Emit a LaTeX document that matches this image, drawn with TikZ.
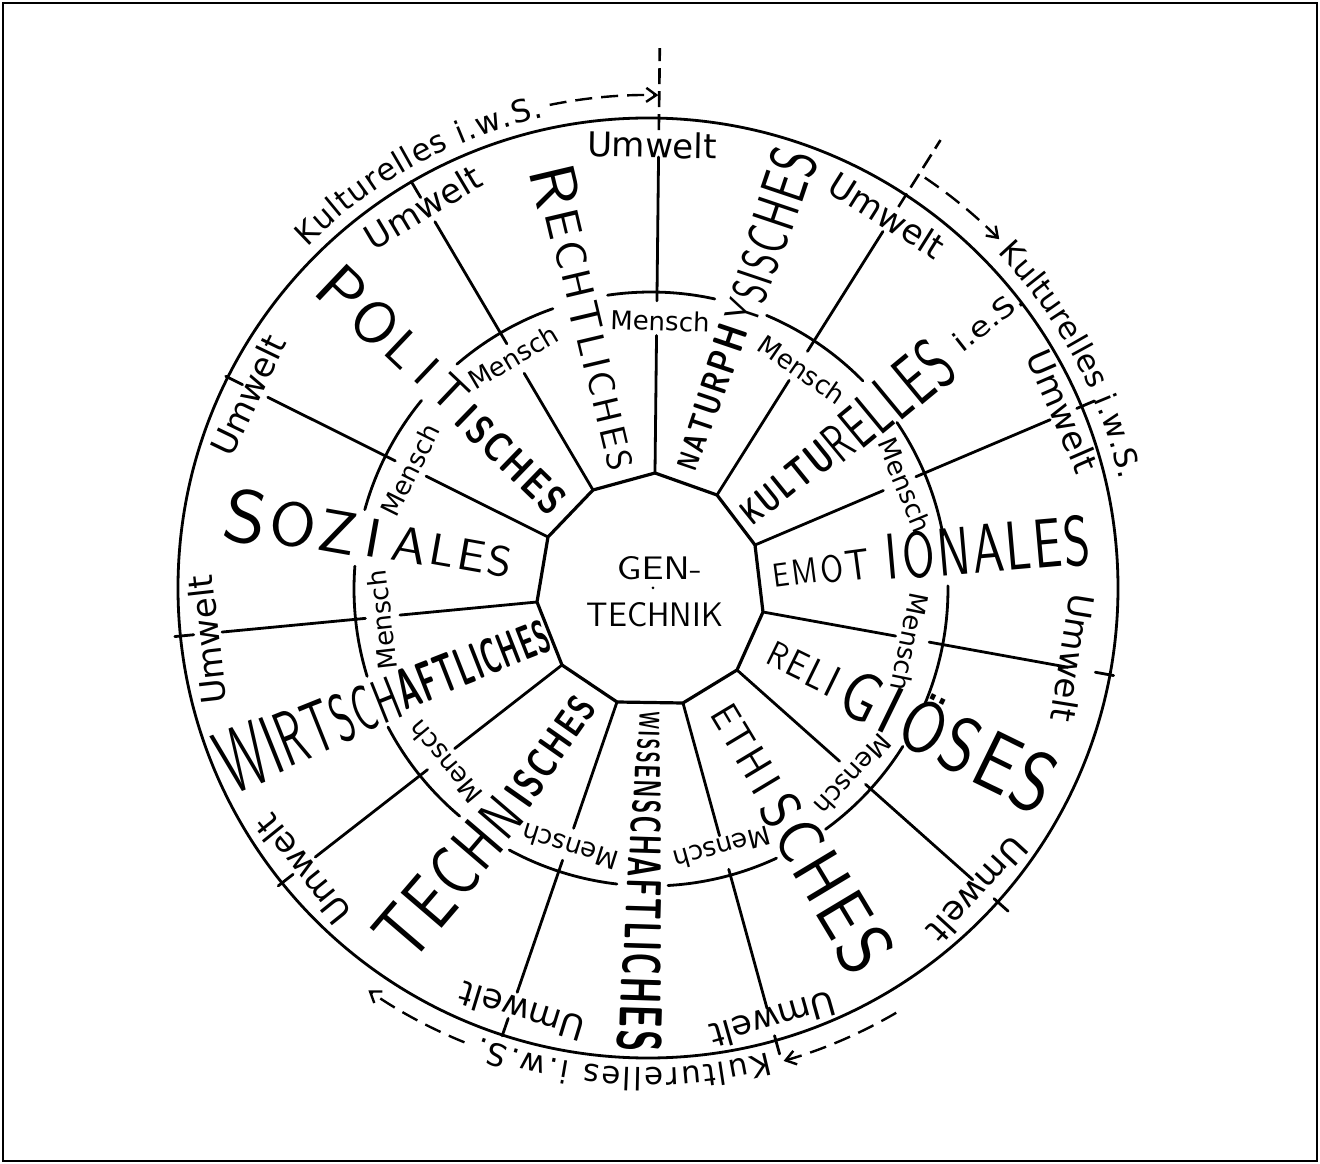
\documentclass[tikz,border=0pt]{standalone}
\usepackage{fontspec}
\usepackage{graphicx}
\usetikzlibrary{calc,decorations.text,arrows.meta}
\newfontfamily\dvs{DejaVu Sans}
\newcommand\hwl[2]{\raisebox{-0.5\height}{\resizebox{!}{#1pt}{#2}}\hspace{3pt}}
\newcommand\hwe[2]{\raisebox{-0.5\height}{\resizebox{!}{#1pt}{#2}}}
\newcommand\hwword[2]{\resizebox*{#1pt}{\totalheight}{#2}}
\newcommand\hwgap[1]{\hspace{#1pt}}
\newcommand\Oum{\vphantom{O}\smash{Ö}}
\newcommand\kfont{\dvs\fontsize{31}{31}\selectfont}
\begin{document}
\begin{tikzpicture}[x=1pt,y=1pt,
  ln/.style={line width=2.8pt, line cap=round},
  mensch/.style={font=\dvs\fontsize{26}{26}\selectfont, inner sep=0pt},
  umwelt/.style={font=\dvs\fontsize{34}{34}\selectfont, inner sep=0pt},
  big/.style={font=\sffamily, inner sep=0pt},
  bigb/.style={font=\sffamily\bfseries, inner sep=0pt},
  dashrad/.style={line width=2.6pt, dash pattern=on 16pt off 7pt},
  dasharr/.style={line width=2.4pt, dash pattern=on 17pt off 9pt, -{Straight Barb[length=10pt,width=14pt,line width=2.4pt]}}]
\useasboundingbox (-651,-574) rectangle (669,590);
\draw[line width=1.8pt] (-648,-571) rectangle (666,587);

% polygon vertices and outer ends of the radial lines
\coordinate (V1) at (4,117);   \coordinate (O1) at (89:433);
\coordinate (V2) at (66,95);   \coordinate (O2) at (57.1:427);
\coordinate (V3) at (104,45);  \coordinate (O3) at (23.1:434);
\coordinate (V4) at (112,-22); \coordinate (O4) at (-10.5:424);
\coordinate (V5) at (86,-80);  \coordinate (O5) at (-42:433);
\coordinate (V6) at (32,-113); \coordinate (O6) at (-74.5:434);
\coordinate (V7) at (-34,-112);\coordinate (O7) at (-108.4:424);
\coordinate (V8) at (-89,-75); \coordinate (O8) at (-141.5:429);
\coordinate (V9) at (-114,-12);\coordinate (O9) at (-174.4:431);
\coordinate (V10) at (-103,53);\coordinate (O10) at (153.3:429);
\coordinate (V11) at (-58,100);\coordinate (O11) at (120.4:427);

\draw[ln, line width=3.2pt, line join=round] (V1)--(V2)--(V3)--(V4)--(V5)--(V6)--(V7)--(V8)--(V9)--(V10)--(V11)--cycle;

\foreach \i in {1,...,11}{
  \draw[ln] (V\i) -- ($(V\i)!0.435!(O\i)$);
  \draw[ln] ($(V\i)!0.545!(O\i)$) -- (O\i);
}
\foreach \i in {3,...,11}{
  \draw[ln] ($(V\i)!1.09!(O\i)$) -- ($(V\i)!1.15!(O\i)$);
}
\draw[dashrad] ($(V1)!1.085!(O1)$) -- ($(V1)!1.345!(O1)$);
\draw[dashrad] ($(V2)!1.093!(O2)$) -- ($(V2)!1.347!(O2)$);

% circles
\draw[ln] (-3,2) circle[radius=470];
\begin{scope}[shift={(0,1)}]
\foreach \a/\b in {77.6/98.4, 109.3/130.8, 140.6/164.5, 175.6/197.1, 207.7/229.9, 241.5/263.4, 273.3/295, 306/328, 337.4/360.6, 370.5/394.1, 404.5/427.1}
  \draw[ln] (\a:297) arc[start angle=\a, end angle=\b, radius=297];
\end{scope}

% Kulturelles i.w.S. and arrows
\begin{scope}[shift={(-3,2)}]
\path[decorate, decoration={text along path, text align={fit to path}, text={|\kfont|Kulturelles i.w.S.}}] (135:482) arc[start angle=135, end angle=102.5, radius=482];
\path[decorate, decoration={text along path, text align={fit to path}, text={|\kfont|Kulturelles i.w.S.}}] (43.8:484) arc[start angle=43.8, end angle=12.9, radius=484];
\path[decorate, decoration={text along path, text align={fit to path}, text={|\kfont|Kulturelles i.w.S.}}] (-75.5:480) arc[start angle=-75.5, end angle=-110.5, radius=480];
\draw[dasharr] (101.5:493) arc[start angle=101.5, end angle=88.8, radius=493];
\draw[dasharr] (56:495) arc[start angle=56, end angle=44.8, radius=495];
\draw[dasharr] (-59.7:492) arc[start angle=-59.7, end angle=-74, radius=492];
\draw[dasharr] (-112:490) arc[start angle=-112, end angle=-124.8, radius=490];
\end{scope}

% Mensch labels
\node[mensch, rotate=-1.9]  (m1)  at (9,269) {Mensch};
\node[mensch, rotate=-34.5] (m2)  at (151,220) {Mensch};
\node[mensch, rotate=-67.5] (m3)  at (254,105) {Mensch};
\node[mensch, rotate=-101.4] (m4) at (259,-52) {Mensch};
\node[mensch, rotate=-132.5] (m5) at (202,-185) {Mensch};
\node[mensch, rotate=-164.6] (m6) at (71,-258) {Mensch};
\node[mensch, rotate=162.5] (m7)  at (-81,-257) {Mensch};
\node[mensch, rotate=129.9] (m8)  at (-206,-172) {Mensch};
\node[mensch, rotate=96.4]  (m9)  at (-269,-30) {Mensch};
\node[mensch, rotate=63.5]  (m10) at (-241,120) {Mensch};
\node[mensch, rotate=30.6]  (m11) at (-138,233) {Mensch};

% Umwelt labels
\node[umwelt, rotate=-1]     (u1)  at (1,445) {Umwelt};
\node[umwelt, rotate=-32.2]  (u2)  at (236,375) {Umwelt};
\node[umwelt, rotate=-66.5]  (u3)  at (412,179) {Umwelt};
\node[umwelt, rotate=-99.2]  (u4)  at (422,-68) {Umwelt};
\node[umwelt, rotate=-132.5] (u5)  at (327,-300) {Umwelt};
\node[umwelt, rotate=-164.2] (u6)  at (122,-430) {Umwelt};
\node[umwelt, rotate=163]    (u7)  at (-129,-422) {Umwelt};
\node[umwelt, rotate=128.8]  (u8)  at (-348,-280) {Umwelt};
\node[umwelt, rotate=96.4]   (u9)  at (-444,-50) {Umwelt};
\node[umwelt, rotate=64.2]   (u10) at (-403,195) {Umwelt};
\node[umwelt, rotate=30.8]   (u11) at (-228,383) {Umwelt};

% centre
\node[big] (gen) at (8.5,21.5) {\resizebox{85pt}{23pt}{GEN-}};
\node[big] (technik) at (4,-25) {\resizebox{136pt}{24pt}{TECHNIK}};
\fill (2,2) circle[radius=1.5];

% sector labels
\node[big, rotate=-76.7] (rechtl) at (-65,272.5) {\hwword{313}{\hwl{45}{R}\hwl{33}{E}\hwl{30}{C}\hwl{28}{H}\hwl{30}{T}\hwl{27}{L}\hwl{27}{I}\hwl{26}{C}\hwl{25}{H}\hwl{25}{E}\hwe{25}{S}}};
\node[bigb, rotate=71.3] (natur1) at (59.5,192.5) {\hwword{152}{\hwl{20}{N}\hwl{22}{A}\hwl{23}{T}\hwl{25}{U}\hwl{26}{R}\hwl{28}{P}\hwe{30}{H}}};
\node[big, rotate=71.4] (natur2) at (118,354) {\hwword{181}{\hwl{33}{Y}\hwl{35}{S}\hwl{36}{I}\hwl{37}{S}\hwl{40}{C}\hwl{42}{H}\hwl{44}{E}\hwe{47}{S}}};
\node[bigb, rotate=38.9] (kult1) at (135.5,106.5) {\hwword{107}{\hwl{24}{K}\hwl{26}{U}\hwl{27}{L}\hwl{29}{T}\hwe{31}{U}}};
\node[big, rotate=39.6] (kult2) at (236.5,187.5) {\hwword{149}{\hwl{38}{R}\hwl{42}{E}\hwl{45}{L}\hwl{48}{L}\hwl{50}{E}\hwe{52}{S}}};
\node[inner sep=0pt, font=\dvs, rotate=38] (ies) at (337,270) {\resizebox{82pt}{21pt}{i.e.S.}};
\node[big, rotate=7.6] (emot1) at (170.5,20.5) {\hwword{97}{\hwl{23}{E}\hwl{25}{M}\hwl{27}{O}\hwe{30}{T}}};
\node[big, rotate=5] (emot2) at (337,41) {\hwword{205}{\hwl{45}{I}\hwgap{4}\hwl{46}{O}\hwl{47}{N}\hwl{48}{A}\hwl{48}{L}\hwl{48}{E}\hwe{50}{S}}};
\node[big, rotate=-26.1] (relig) at (260,-131) {\hwword{314}{\hwl{25}{R}\hwl{27}{E}\hwl{29}{L}\hwl{31}{I}\hwgap{8}\hwl{48}{G}\hwgap{4}\hwl{48}{I}\hwgap{6}\hwl{52}{\Oum}\hwl{55}{S}\hwl{57}{E}\hwe{60}{S}}};
\node[big, rotate=-59] (ethis) at (146.5,-247) {\hwword{301}{\hwl{27}{E}\hwl{28}{T}\hwl{30}{H}\hwgap{4}\hwl{31}{I}\hwgap{8}\hwl{40}{S}\hwl{45}{C}\hwl{48}{H}\hwl{50}{E}\hwe{55}{S}}};
\node[bigb, rotate=-91.7] (wissen) at (-7,-292) {\hwword{340}{\hwl{20}{W}\hwl{21}{I}\hwl{22}{S}\hwl{23}{S}\hwl{25}{E}\hwl{27}{N}\hwl{28}{S}\hwl{30}{C}\hwl{31}{H}\hwl{33}{A}\hwl{34}{F}\hwl{35}{T}\hwl{36}{L}\hwl{37}{I}\hwl{38}{C}\hwl{40}{H}\hwl{42}{E}\hwe{44}{S}}};
\node[big, rotate=49.4] (techn1) at (-200.5,-286.5) {\hwword{186}{\hwl{55}{T}\hwl{54}{E}\hwl{51}{C}\hwl{47}{H}\hwe{41}{N}}};
\node[bigb, rotate=55] (techn2) at (-100,-161) {\hwword{124}{\hwl{32}{I}\hwl{31}{S}\hwl{30}{C}\hwl{29}{H}\hwl{28}{E}\hwe{28}{S}}};
\node[big, rotate=21.8] (wirt1) at (-342,-140.5) {\hwword{190}{\hwl{63}{W}\hwl{58}{I}\hwl{54}{R}\hwl{51}{T}\hwl{48}{S}\hwl{45}{C}\hwe{43}{H}}};
\node[bigb, rotate=21.4] (wirt2) at (-178,-73) {\hwword{161}{\hwl{40}{A}\hwl{39}{F}\hwl{38}{T}\hwl{37}{L}\hwl{36}{I}\hwl{35}{C}\hwl{34}{H}\hwl{33}{E}\hwe{33}{S}}};
\node[big, rotate=-10.1] (sozial) at (-282.5,51.5) {\hwword{291}{\hwl{53}{S}\hwl{44}{O}\hwl{42}{Z}\hwgap{6}\hwl{38}{I}\hwgap{8}\hwl{35}{A}\hwl{31}{L}\hwl{31}{E}\hwe{30}{S}}};
\node[big, rotate=-43.5] (polit1) at (-256.5,250) {\hwword{186}{\hwl{45}{P}\hwl{42}{O}\hwl{36}{L}\hwgap{8}\hwl{32}{I}\hwgap{6}\hwe{32}{T}}};
\node[bigb, rotate=-44.1] (polit2) at (-140,130.5) {\hwword{136}{\hwl{29}{I}\hwgap{3}\hwl{29}{S}\hwl{29}{C}\hwl{29}{H}\hwl{29}{E}\hwe{29}{S}}};
\end{tikzpicture}
\end{document}
